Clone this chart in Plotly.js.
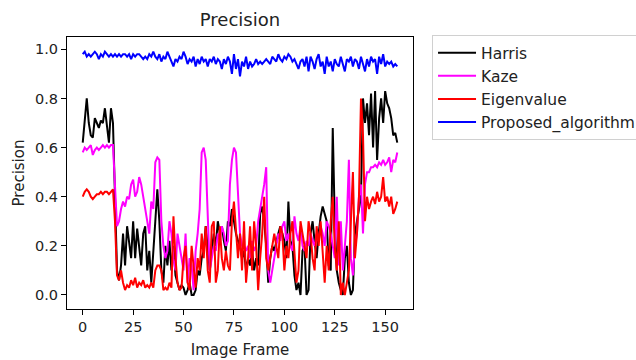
<!DOCTYPE html>
<html>
<head>
<meta charset="utf-8">
<script src="https://cdn.plot.ly/plotly-3.0.1.min.js"></script>
<style>html,body{margin:0;padding:0;background:#fff;}#chart{width:636px;height:360px;}</style>
</head>
<body>
<div id="chart"></div>
<script>
const harris = [
0.62,0.70,0.80,0.70,0.65,0.64,0.72,0.70,0.68,0.71,0.70,0.76,0.69,0.62,0.76,0.70,
0.40,0.10,0.06,0.12,0.25,0.12,0.28,0.22,0.15,0.30,0.15,0.27,0.20,0.12,0.25,0.28,
0.10,0.18,0.05,0.20,0.30,0.43,0.30,0.10,0.05,0.20,0.12,0.22,0.10,0.20,0.08,0.05,
0.02,0.04,0.03,0.00,0.02,0.05,0.00,0.00,0.02,0.10,0.08,0.15,0.18,0.28,0.20,0.10,
0.18,0.25,0.20,0.30,0.25,0.28,0.22,0.18,0.30,0.28,0.35,0.30,0.25,0.22,0.20,0.15,
0.18,0.10,0.15,0.12,0.18,0.10,0.15,0.12,0.33,0.36,0.30,0.20,0.05,0.15,0.20,0.18,
0.22,0.25,0.28,0.25,0.22,0.15,0.38,0.22,0.20,0.08,0.02,0.05,0.00,0.18,0.20,0.00,
0.02,0.25,0.30,0.22,0.15,0.25,0.32,0.36,0.33,0.30,0.12,0.10,0.68,0.30,0.10,0.05,
0.02,0.00,0.15,0.20,0.05,0.00,0.02,0.25,0.30,0.35,0.40,0.80,0.70,0.78,0.65,0.82,
0.60,0.83,0.55,0.72,0.80,0.70,0.83,0.78,0.76,0.72,0.65,0.66,0.62];
const kaze = [
0.58,0.60,0.59,0.60,0.61,0.57,0.59,0.60,0.59,0.60,0.61,0.60,0.61,0.60,0.61,0.61,
0.45,0.28,0.30,0.35,0.38,0.36,0.40,0.39,0.45,0.47,0.40,0.42,0.48,0.45,0.40,0.35,
0.30,0.25,0.38,0.35,0.54,0.56,0.55,0.30,0.20,0.15,0.18,0.30,0.25,0.15,0.10,0.25,
0.20,0.15,0.10,0.25,0.05,0.15,0.12,0.02,0.18,0.25,0.35,0.58,0.60,0.55,0.30,0.10,
0.15,0.20,0.18,0.25,0.22,0.28,0.25,0.20,0.22,0.45,0.55,0.60,0.58,0.40,0.25,0.20,
0.20,0.18,0.20,0.15,0.22,0.18,0.20,0.30,0.35,0.40,0.45,0.52,0.10,0.05,0.10,0.15,
0.20,0.25,0.22,0.28,0.30,0.22,0.25,0.20,0.18,0.32,0.25,0.22,0.28,0.20,0.18,0.22,
0.20,0.25,0.22,0.20,0.25,0.22,0.28,0.25,0.20,0.30,0.28,0.25,0.20,0.15,0.40,0.12,
0.30,0.10,0.20,0.30,0.55,0.15,0.08,0.20,0.25,0.40,0.45,0.25,0.45,0.50,0.50,0.52,
0.52,0.53,0.52,0.54,0.53,0.55,0.53,0.54,0.56,0.50,0.55,0.54,0.58];
const eigenvalue = [
0.40,0.42,0.43,0.42,0.40,0.39,0.40,0.41,0.41,0.42,0.41,0.42,0.42,0.41,0.42,0.43,
0.30,0.08,0.06,0.10,0.05,0.02,0.04,0.03,0.06,0.04,0.07,0.03,0.05,0.04,0.06,0.03,
0.04,0.03,0.05,0.03,0.10,0.12,0.12,0.10,0.02,0.03,0.02,0.05,0.03,0.32,0.15,0.05,
0.02,0.03,0.15,0.20,0.05,0.02,0.20,0.10,0.03,0.15,0.10,0.25,0.15,0.28,0.10,0.05,
0.28,0.30,0.05,0.10,0.28,0.15,0.10,0.18,0.12,0.10,0.30,0.38,0.25,0.15,0.25,0.10,
0.30,0.05,0.15,0.28,0.10,0.30,0.20,0.02,0.15,0.25,0.40,0.15,0.10,0.15,0.20,0.25,
0.20,0.15,0.28,0.25,0.10,0.20,0.15,0.25,0.30,0.15,0.05,0.10,0.30,0.25,0.20,0.15,
0.30,0.25,0.15,0.10,0.28,0.20,0.30,0.15,0.05,0.20,0.10,0.30,0.40,0.20,0.10,0.30,
0.00,0.05,0.00,0.05,0.10,0.30,0.50,0.15,0.25,0.40,0.80,0.65,0.30,0.40,0.35,0.38,
0.40,0.37,0.42,0.38,0.40,0.48,0.38,0.40,0.36,0.40,0.33,0.35,0.38];
const proposed = [
0.98,0.99,0.97,0.98,0.97,0.98,0.99,0.98,0.96,0.98,0.97,0.99,0.98,0.97,0.98,0.97,
0.98,0.97,0.98,0.97,0.98,0.98,0.97,0.98,0.96,0.98,0.97,0.98,0.98,0.97,0.96,0.97,
0.96,0.98,0.97,0.99,0.97,0.96,0.98,0.95,0.97,0.96,0.99,0.97,0.95,0.93,0.96,0.95,
0.97,0.96,0.99,0.97,0.94,0.96,0.95,0.97,0.93,0.96,0.94,0.97,0.95,0.96,0.93,0.96,
0.95,0.97,0.94,0.96,0.95,0.92,0.96,0.94,0.97,0.95,0.90,0.98,0.92,0.96,0.89,0.95,
0.93,0.97,0.92,0.95,0.93,0.94,0.96,0.94,0.95,0.94,0.95,0.96,0.95,0.94,0.97,0.96,
0.95,0.98,0.96,0.95,0.97,0.96,0.98,0.97,0.95,0.96,0.94,0.92,0.95,0.96,0.93,0.97,
0.91,0.97,0.95,0.92,0.96,0.98,0.93,0.95,0.90,0.97,0.93,0.95,0.91,0.96,0.94,0.93,
0.97,0.94,0.91,0.96,0.95,0.97,0.93,0.96,0.95,0.92,0.97,0.94,0.91,0.96,0.93,0.97,
0.95,0.96,0.90,0.97,0.94,0.98,0.93,0.95,0.94,0.95,0.93,0.94,0.93];
const frames = harris.map((_, i) => i);
const seriesNames = ["Harris", "Kaze", "Eigenvalue", "Proposed_algorithm"];
const seriesColors = ["black", "magenta", "red", "blue"];
const seriesValues = [harris, kaze, eigenvalue, proposed];
const xTicks = [0, 25, 50, 75, 100, 125, 150];
const yTicks = [0.0, 0.2, 0.4, 0.6, 0.8, 1.0];

const font = "DejaVu Sans, sans-serif";
const traces = seriesValues.map((v, k) => ({
  x: frames, y: v, type: "scatter", mode: "lines", name: seriesNames[k],
  line: {color: seriesColors[k], width: 2}
}));
const axisCommon = {
  showline: true, mirror: true, linecolor: "black", linewidth: 1,
  ticks: "outside", ticklen: 5, tickwidth: 1, tickcolor: "black",
  showgrid: false, zeroline: false, automargin: false,
  tickfont: {family: font, size: 14.5, color: "#222"}
};
const layout = {
  width: 636, height: 360,
  margin: {l: 67, r: 223, t: 37, b: 51, autoexpand: false},
  paper_bgcolor: "white", plot_bgcolor: "white",
  title: {text: "Precision", font: {family: font, size: 18, color: "#222"}, x: 0.5, xref: "paper", y: 0.945, yref: "container", yanchor: "middle"},
  xaxis: Object.assign({}, axisCommon, {range: [-7.8, 163.8], tickvals: xTicks, ticktext: xTicks.map(String),
    title: {text: "Image Frame", font: {family: font, size: 15, color: "#222"}, standoff: 10}}),
  yaxis: Object.assign({}, axisCommon, {range: [-0.057, 1.05], tickvals: yTicks, ticktext: yTicks.map(t => t.toFixed(1)),
    title: {text: "Precision", font: {family: font, size: 15, color: "#222"}, standoff: 6}}),
  showlegend: true,
  legend: {x: 1.055, xanchor: "left", y: 1.007, yanchor: "top", bordercolor: "#d0d0d0", borderwidth: 1,
    font: {family: font, size: 15.5, color: "#222"}, bgcolor: "white", tracegroupgap: 0, itemwidth: 38}
};
Plotly.newPlot("chart", traces, layout, {displayModeBar: false, staticPlot: true});
</script>
</body>
</html>
